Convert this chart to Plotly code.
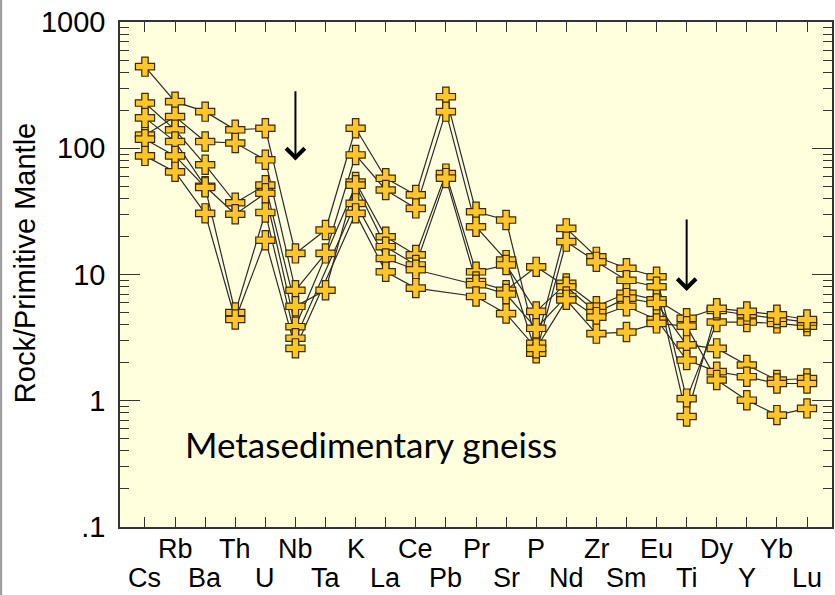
import math
import plotly.graph_objects as go

elements = ["Cs", "Rb", "Ba", "Th", "U", "Nb", "Ta", "K", "La", "Ce", "Pb", "Pr",
            "Sr", "P", "Nd", "Zr", "Sm", "Eu", "Ti", "Dy", "Y", "Yb", "Lu"]

N = None
sample_1 = [443, 234, 195, 140, 144, 14.7, 22.5, 144, 57.8, 42.7, 256, 31.4,
            27, 2.85, 23.2, 13.8, 11.2, 9.6, 1.04, 4.2, 4.2, 4.1, 3.9]
sample_2 = [127, 178, 113, 110, 81, 7.5, 14.7, 88.5, 46.7, 33.4, 195, 23.9,
            13, 2.38, 18.2, 12.6, 9.0, 8.0, 0.75, 5.2, 4.8, 4.5, 4.2]
sample_3 = [228, 140, 74, 37, 51, 5.6, 7.5, 54, 19.9, 14.3, 63, 10.5,
            11.9, 5.1, 8.5, 5.6, 7.1, 6.3, 4.5, 5.4, 5.1, 4.8, 4.4]
sample_4 = [174, 113, 50, 30, 44, 3.86, N, 51, 16.6, 11.9, 58, 8.8,
            7.5, 11.5, 8.0, 5.0, 6.5, 5.9, 2.77, 2.6, 1.92, 1.46, 1.5]
sample_5 = [118, 87, 49, 5.0, 31, 3.13, N, 36.6, 13.4, 10.9, N, 8.3,
            7.0, 3.75, 6.7, 4.6, 5.6, 4.4, 2.1, 1.7, 1.55, 1.37, 1.37]
sample_6 = [87, 65, 30.5, 4.4, 18.7, 2.6, N, 30.5, 10.5, 7.8, N, 6.7,
            4.9, 2.6, 6.3, 3.4, 3.5, 4.1, 3.9, 1.46, 1.01, 0.77, 0.87]
samples = [sample_1, sample_2, sample_3, sample_4, sample_5, sample_6]

y_tick_vals = [0.1, 1, 10, 100, 1000]
y_tick_text = [".1", "1", "10", "100", "1000"]
y_title = "Rock/Primitive Mantle"

label = "Metasedimentary gneiss"
label_x = 1.26
label_y = 0.454
arrow_elements = ["Nb", "Ti"]
arrow_heads = [80, 7.4]
arrow_tails = [290, 28]

FONT = "Liberation Sans, Arial, sans-serif"
xi = list(range(len(elements)))

fig = go.Figure()
for s in samples:
    fig.add_trace(go.Scatter(x=xi, y=s, mode="lines", connectgaps=True,
                             line=dict(color="#2b2b2b", width=1.2),
                             hoverinfo="skip", showlegend=False))
for s in samples:
    fig.add_trace(go.Scatter(x=xi, y=s, mode="markers",
                             marker=dict(symbol="cross", size=16, color="#FFC52A",
                                         line=dict(color="#3b2c05", width=1.2)),
                             showlegend=False))

for el, head, tail in zip(arrow_elements, arrow_heads, arrow_tails):
    ix = elements.index(el)
    fig.add_annotation(x=ix, y=math.log10(head), ax=ix, ay=math.log10(tail),
                       xref="x", yref="y", axref="x", ayref="y",
                       showarrow=True, arrowhead=4, arrowsize=1.8, arrowwidth=2,
                       arrowcolor="black", text="")

fig.add_annotation(x=label_x, y=math.log10(label_y), xref="x", yref="y", text=label,
                   showarrow=False, xanchor="left", yanchor="middle",
                   font=dict(family="Lato, Open Sans, sans-serif", size=35, color="black"))

# two staggered rows of element labels
for i, e in enumerate(elements):
    fig.add_annotation(x=i, y=0, xref="x", yref="paper", text=e, showarrow=False,
                       xanchor="center", yanchor="middle",
                       yshift=-22 if i % 2 == 1 else -51,
                       font=dict(family=FONT, size=27, color="black"))

# y-axis title
fig.add_annotation(x=-0.133, y=0.523, xref="paper", yref="paper", text=y_title,
                   textangle=-90, showarrow=False, xanchor="center", yanchor="middle",
                   font=dict(family=FONT, size=29, color="black"))

fig.update_xaxes(range=[-0.83, 22.83], tickmode="array", tickvals=xi,
                 ticktext=[""] * len(xi), tickangle=0, automargin=False,
                 ticks="inside", ticklen=10, tickcolor="#333", mirror="ticks",
                 showline=True, linecolor="#333", linewidth=1.5, showgrid=False,
                 zeroline=False)
fig.update_yaxes(type="log", range=[-1, 3], tickmode="array", tickvals=y_tick_vals,
                 ticktext=y_tick_text, ticks="inside", ticklen=20, tickcolor="#333",
                 mirror="ticks", showline=True, linecolor="#333", linewidth=1.5,
                 showgrid=False, zeroline=False, automargin=False, ticklabelstandoff=7,
                 minor=dict(ticks="inside", ticklen=9, tickcolor="#333", dtick="D1", showgrid=False),
                 tickfont=dict(family=FONT, size=29, color="black"))

fig.add_shape(type="line", xref="paper", yref="paper", x0=-0.167, x1=-0.167, y0=-0.2, y1=1.1,
              line=dict(color="#999", width=2))

fig.update_layout(width=835, height=595, margin=dict(l=120, r=3, t=22, b=68),
                  plot_bgcolor="#FFFFDE", paper_bgcolor="white")

fig.write_html("out.html", config={"displayModeBar": False},
               post_script="document.body.style.margin='0';")
